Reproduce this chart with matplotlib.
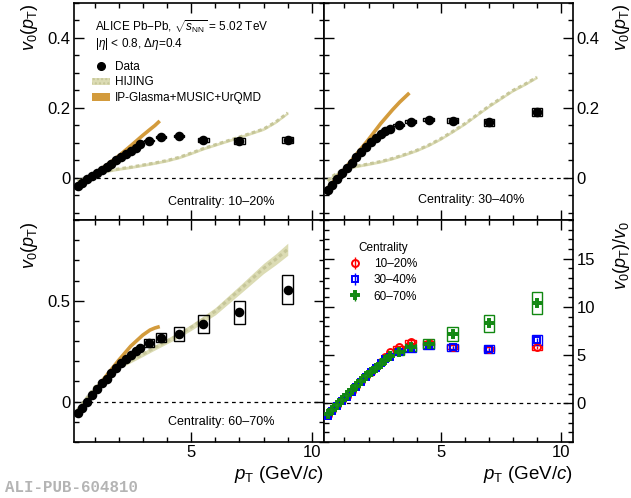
import matplotlib
matplotlib.use("Agg")
import matplotlib.pyplot as plt
from matplotlib.patches import Rectangle, Patch
from matplotlib.lines import Line2D
from matplotlib.ticker import MultipleLocator, FuncFormatter

plt.rcParams['font.family'] = ['Liberation Sans', 'DejaVu Sans']
plt.rcParams['mathtext.fontset'] = 'custom'
plt.rcParams['mathtext.rm'] = 'Liberation Sans'
plt.rcParams['mathtext.it'] = 'Liberation Sans:italic'
plt.rcParams['mathtext.bf'] = 'Liberation Sans:bold'

# data points (pT bin centres)
pt = [0.3, 0.5, 0.7, 0.9, 1.1, 1.3, 1.5, 1.7, 1.9, 2.1, 2.3, 2.5, 2.7, 2.9,
      3.25, 3.75, 4.5, 5.5, 7.0, 9.0]

v0_1020 = [-0.022, -0.013, -0.004, 0.005, 0.014, 0.023, 0.032, 0.041, 0.050,
           0.059, 0.068, 0.077, 0.086, 0.096, 0.107, 0.118, 0.120, 0.109, 0.106, 0.109]
sys_1020 = [0, 0, 0, 0, 0, 0, 0, 0, 0, 0, 0, 0, 0, 0,
            0.002, 0.003, 0.004, 0.005, 0.009, 0.009]

v0_3040 = [-0.034, -0.019, -0.004, 0.013, 0.029, 0.043, 0.059, 0.073, 0.088,
           0.102, 0.113, 0.126, 0.135, 0.140, 0.152, 0.161, 0.167, 0.164, 0.159, 0.189]
sys_3040 = [0, 0, 0, 0, 0, 0, 0, 0, 0, 0, 0, 0, 0, 0,
            0.003, 0.004, 0.005, 0.006, 0.010, 0.011]

v0_6070 = [-0.058, -0.030, 0.000, 0.031, 0.061, 0.090, 0.114, 0.141, 0.166,
           0.190, 0.210, 0.230, 0.249, 0.264, 0.289, 0.317, 0.335, 0.385, 0.443, 0.555]
sys_6070 = [0, 0, 0, 0, 0, 0, 0, 0, 0, 0, 0, 0, 0, 0,
            0.020, 0.022, 0.034, 0.044, 0.058, 0.072]

# ratio v0(pT)/v0
r_1020 = [-1.2, -0.7, -0.2, 0.3, 0.8, 1.3, 1.8, 2.3, 2.8, 3.3, 3.8, 4.3, 4.8, 5.3,
          5.8, 6.4, 6.3, 5.8, 5.6, 5.8]
r_3040 = [-1.3, -0.8, -0.3, 0.2, 0.7, 1.2, 1.75, 2.25, 2.75, 3.25, 3.7, 4.15, 4.55, 4.85,
          5.35, 5.6, 5.95, 5.8, 5.6, 6.6]
r_6070 = [-1.15, -0.65, -0.15, 0.35, 0.85, 1.35, 1.85, 2.3, 2.8, 3.25, 3.7, 4.1, 4.5, 4.9,
          5.35, 5.8, 6.2, 7.2, 8.3, 10.4]
rsys_1020 = [0, 0, 0, 0, 0, 0, 0, 0, 0, 0, 0, 0, 0, 0, 0.1, 0.15, 0.2, 0.2, 0.2, 0.25]
rsys_3040 = [0, 0, 0, 0, 0, 0, 0, 0, 0, 0, 0, 0, 0, 0, 0.2, 0.25, 0.35, 0.4, 0.4, 0.5]
rsys_6070 = [0, 0, 0, 0, 0, 0, 0, 0, 0, 0, 0, 0, 0, 0, 0.3, 0.4, 0.5, 0.7, 0.9, 1.15]

# models
hij_x = [0.3, 0.5, 1.0, 1.5, 2.0, 2.5, 3.0, 3.5, 4.0, 4.5, 5.0, 5.5, 6.0, 7.0, 8.0, 8.5, 9.0]
hij_1020 = [-0.010, -0.003, 0.012, 0.020, 0.026, 0.031, 0.037, 0.043, 0.050, 0.059,
            0.071, 0.084, 0.095, 0.117, 0.140, 0.160, 0.186]
hij_3040 = [-0.008, 0.005, 0.026, 0.034, 0.040, 0.047, 0.056, 0.067, 0.079, 0.094,
            0.112, 0.133, 0.155, 0.205, 0.250, 0.268, 0.288]
hij_6070 = [-0.040, -0.010, 0.070, 0.130, 0.172, 0.203, 0.235, 0.268, 0.300, 0.332,
            0.368, 0.408, 0.448, 0.553, 0.660, 0.705, 0.755]
hij_err_top = [0.004] * 17
hij_err_6070 = [0.008, 0.008, 0.008, 0.008, 0.009, 0.010, 0.011, 0.012, 0.013, 0.014,
                0.015, 0.016, 0.018, 0.021, 0.025, 0.027, 0.030]

ipg_x = [0.3, 0.7, 1.0, 1.5, 2.0, 2.5, 3.0, 3.3, 3.5, 3.7]
ipg_1020 = [-0.020, -0.002, 0.012, 0.037, 0.063, 0.092, 0.122, 0.139, 0.150, 0.163]
ipg_3040 = [-0.030, 0.003, 0.025, 0.068, 0.110, 0.155, 0.195, 0.217, 0.230, 0.243]
ipg_6070 = [-0.055, 0.000, 0.050, 0.130, 0.205, 0.275, 0.330, 0.355, 0.365, 0.372]

hij_color = '#dcdcb4'
hij_dash = '#c6c699'
ipg_color = '#d39b3c'

fig = plt.figure(figsize=(6.31, 4.98), dpi=100)
W, H = 631.0, 498.0


def px_axes(x0, y0, x1, y1):
    return fig.add_axes([x0 / W, 1 - y1 / H, (x1 - x0) / W, (y1 - y0) / H])


ax_tl = px_axes(74, 3, 324, 220)
ax_tr = px_axes(324, 3, 573, 220)
ax_bl = px_axes(74, 220, 324, 442)
ax_br = px_axes(324, 220, 573, 442)

fmt = FuncFormatter(lambda v, p: '%g' % v)
for ax in [ax_tl, ax_tr, ax_bl, ax_br]:
    ax.set_xlim(0.15, 10.5)
    ax.xaxis.set_major_locator(MultipleLocator(5))
    ax.xaxis.set_minor_locator(MultipleLocator(1))
    ax.tick_params(which='both', direction='in', top=True, right=True,
                   labelsize=12, width=1.0, pad=2.5)
    ax.tick_params(which='major', length=7)
    ax.tick_params(which='minor', length=3.5)
    ax.yaxis.set_major_formatter(fmt)
    ax.xaxis.set_major_formatter(fmt)
    for s in ax.spines.values():
        s.set_linewidth(1.2)
    ax.axhline(0, color='black', lw=0.9, ls=(0, (3, 3)), zorder=1)

for ax in [ax_tl, ax_tr]:
    ax.set_ylim(-0.12, 0.5)
    ax.yaxis.set_major_locator(MultipleLocator(0.2))
    ax.yaxis.set_minor_locator(MultipleLocator(0.05))
    ax.tick_params(labelbottom=False)
ax_bl.set_ylim(-0.2, 0.9)
ax_bl.yaxis.set_major_locator(MultipleLocator(0.5))
ax_bl.yaxis.set_minor_locator(MultipleLocator(0.1))
ax_br.set_ylim(-4, 19)
ax_br.yaxis.set_major_locator(MultipleLocator(5))
ax_br.yaxis.set_minor_locator(MultipleLocator(1))
for ax in [ax_tr, ax_br]:
    ax.tick_params(labelleft=False, labelright=True)


def draw_models(ax, hij, herr, ipg):
    lo = [h - e for h, e in zip(hij, herr)]
    hi = [h + e for h, e in zip(hij, herr)]
    ax.fill_between(hij_x, lo, hi, color=hij_color, lw=0, zorder=2)
    ax.plot(hij_x, hij, color=hij_dash, lw=2.2, dashes=(1.2, 1.0), zorder=2)
    ax.plot(ipg_x, ipg, color=ipg_color, lw=2.6, solid_capstyle='butt', zorder=3)


def draw_data(ax, y, sys, color='black', marker='o', mfc='black', ms=5.5, label=None):
    for x, v, s in zip(pt, y, sys):
        if s > 0:
            ax.add_patch(Rectangle((x - 0.22, v - s), 0.44, 2 * s, fill=False,
                                   edgecolor=color, lw=1.0, zorder=4))
    ax.errorbar(pt, y, yerr=[abs(v) * 0.03 + 0.001 for v in y], fmt=marker, color=color,
                mfc=mfc, mec=color, ms=ms, mew=1.4, elinewidth=1.0, capsize=0,
                zorder=5, label=label)


draw_models(ax_tl, hij_1020, hij_err_top, ipg_1020)
draw_data(ax_tl, v0_1020, sys_1020)
draw_models(ax_tr, hij_3040, hij_err_top, ipg_3040)
draw_data(ax_tr, v0_3040, sys_3040)
draw_models(ax_bl, hij_6070, hij_err_6070, ipg_6070)
draw_data(ax_bl, v0_6070, sys_6070)

draw_data(ax_br, r_1020, rsys_1020, color='#ff0000', marker='o', mfc='none', ms=5,
          label='10\u201320%')
draw_data(ax_br, r_3040, rsys_3040, color='#0000ff', marker='s', mfc='none', ms=5,
          label='30\u201340%')
draw_data(ax_br, r_6070, rsys_6070, color='#118811', marker='P', mfc='none', ms=6,
          label='60\u201370%')

# texts top-left
ax_tl.text(0.084, 0.89, r'ALICE Pb$-$Pb, $\sqrt{s_{\rm NN}}$ = 5.02 TeV',
           transform=ax_tl.transAxes, fontsize=8.5, va='center')
ax_tl.text(0.084, 0.812, r'$|\eta|$ < 0.8, $\Delta\eta$=0.4',
           transform=ax_tl.transAxes, fontsize=8.5, va='center')
handles = [Line2D([], [], color='black', marker='o', ms=5.5, lw=0),
           Patch(facecolor=hij_color, edgecolor=hij_dash, hatch='....', lw=0),
           Patch(facecolor=ipg_color, edgecolor='none')]
ax_tl.legend(handles, ['Data', 'HIJING', 'IP-Glasma+MUSIC+UrQMD'], loc='upper left',
             bbox_to_anchor=(0.07, 0.733), frameon=False, fontsize=8.5, borderpad=0,
             borderaxespad=0, handlelength=1.6, handleheight=0.6, handletextpad=0.4,
             labelspacing=0.3)

ax_tl.text(0.59, 0.084, 'Centrality: 10\u201320%', transform=ax_tl.transAxes,
           fontsize=9, ha='center', va='center')
ax_tr.text(0.593, 0.092, 'Centrality: 30\u201340%', transform=ax_tr.transAxes,
           fontsize=9, ha='center', va='center')
ax_bl.text(0.59, 0.091, 'Centrality: 60\u201370%', transform=ax_bl.transAxes,
           fontsize=9, ha='center', va='center')

ax_br.legend(title='Centrality', loc='upper left', bbox_to_anchor=(0.1, 0.9),
             frameon=False, fontsize=8.5, title_fontsize=8.5, borderpad=0,
             borderaxespad=0, handlelength=1.0, handletextpad=1.1, labelspacing=0.35)

# axis labels
ylab = r'$v_{0}(p_{\rm T})$'
fig.text(30 / W, 1 - 3 / H, ylab, rotation=90, ha='center', va='top', fontsize=13)
fig.text(30 / W, 1 - 221 / H, ylab, rotation=90, ha='center', va='top', fontsize=13)
fig.text(621 / W, 1 - 3 / H, ylab, rotation=90, ha='center', va='top', fontsize=13)
fig.text(621 / W, 1 - 221 / H, r'$v_{0}(p_{\rm T})/v_{0}$', rotation=90, ha='center',
         va='top', fontsize=13)
xlab = r'$p_{\rm T}$ (GeV/$c$)'
fig.text(324 / W, 1 - 474 / H, xlab, ha='right', va='center', fontsize=13.5)
fig.text(573 / W, 1 - 474 / H, xlab, ha='right', va='center', fontsize=13.5)

fig.text(5 / W, 1 - 487 / H, 'ALI-PUB-604810', family='Liberation Mono',
         fontweight='bold', color='#b4b4b4', fontsize=11.3, va='center')

fig.savefig('out.png', dpi=100)
